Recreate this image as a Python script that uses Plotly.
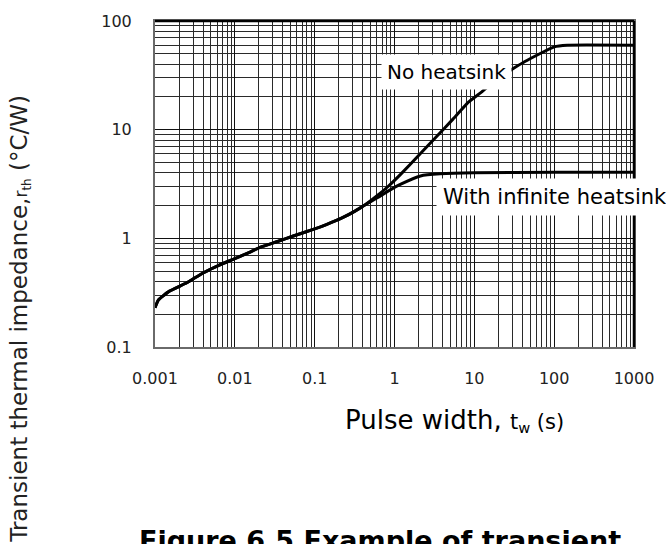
import plotly.graph_objects as go

# Shared part of both curves (pulse width s, impedance °C/W)
common_x = [0.001, 0.0011, 0.0015, 0.0025, 0.004, 0.0063, 0.01, 0.015, 0.021, 0.035, 0.054, 0.1, 0.14, 0.22, 0.32, 0.43]
common_y = [0.23, 0.27, 0.325, 0.39, 0.48, 0.565, 0.65, 0.74, 0.83, 0.94, 1.05, 1.22, 1.34, 1.54, 1.78, 2.04]

# No heatsink branch
nohs_x = [0.6, 0.83, 1.2, 2.1, 3.3, 5.4, 8.5, 12.6, 20, 43, 100, 146, 1000]
nohs_y = [2.45, 3.0, 3.9, 6.0, 8.5, 12.5, 18.0, 22.5, 30, 42.4, 57.8, 59.8, 59.8]

# With infinite heatsink branch
infhs_x = [0.6, 0.83, 1.2, 2.12, 3.74, 10, 100, 1000]
infhs_y = [2.35, 2.72, 3.15, 3.75, 3.92, 4.02, 4.05, 4.05]

x_ticks = [0.001, 0.01, 0.1, 1, 10, 100, 1000]
x_ticktext = ["0.001", "0.01", "0.1", "1", "10", "100", "1000"]
y_ticks = [0.1, 1, 10, 100]
y_ticktext = ["0.1", "1", "10", "100"]

FONT = "DejaVu Sans"

fig = go.Figure()
fig.add_trace(go.Scatter(x=common_x + nohs_x, y=common_y + nohs_y, mode="lines",
                         line=dict(color="black", width=3, shape="spline", smoothing=0.4),
                         showlegend=False))
fig.add_trace(go.Scatter(x=common_x + infhs_x, y=common_y + infhs_y, mode="lines",
                         line=dict(color="black", width=3, shape="spline", smoothing=0.4),
                         showlegend=False))

axis_common = dict(
    type="log",
    showgrid=True, gridcolor="#111111", gridwidth=1.3,
    showline=True, linecolor="#6a6a6a", linewidth=2, mirror=True,
    ticks="", zeroline=False,
    tickfont=dict(family=FONT, size=16, color="#222"),
    minor=dict(showgrid=True, gridcolor="#2a2a2a", gridwidth=1, dtick="D1", ticks=""),
)

fig.update_xaxes(axis_common, range=[-3, 3], tickmode="array", tickvals=x_ticks,
                 ticktext=x_ticktext, ticklabelstandoff=16)
fig.update_yaxes(axis_common, range=[-1, 2], tickmode="array", tickvals=y_ticks,
                 ticktext=y_ticktext, ticklabelstandoff=18)

# black top and right frame
fig.add_shape(type="line", xref="paper", yref="paper", x0=0, x1=1, y0=1, y1=1,
              line=dict(color="black", width=2.5), layer="above")
fig.add_shape(type="line", xref="paper", yref="paper", x0=1, x1=1, y0=0, y1=1,
              line=dict(color="black", width=2.5), layer="above")

# curve labels (annotation coordinates on log axes are log10 values)
fig.add_annotation(x=0.6477, y=1.5276, xref="x", yref="y", text="No heatsink",
                   showarrow=False, bgcolor="white", borderpad=5,
                   font=dict(family=FONT, size=20, color="black"))
fig.add_annotation(x=0.525, y=0.376, xref="x", yref="y", text="With infinite heatsink",
                   xanchor="left", showarrow=False, bgcolor="white", borderpad=6,
                   font=dict(family=FONT, size=21, color="black"))

# x-axis title
fig.add_annotation(xref="paper", yref="paper", x=(461 - 155) / 490, y=-(422 - 347) / 333.5,
                   text="Pulse width, <span style='font-size:21px'>t<sub>w</sub> (s)</span>",
                   showarrow=False, xanchor="center", yanchor="middle",
                   font=dict(family=FONT, size=26, color="black"))
# y-axis title
fig.add_annotation(xref="paper", yref="paper", x=-(155 - 17) / 490, y=(347 - 318) / 333.5,
                   text="Transient thermal impedance,<span style='font-size:17px'>r<sub>th</sub></span> (°C/W)",
                   showarrow=False, textangle=-90, xanchor="center", yanchor="middle",
                   font=dict(family=FONT, size=23, color="#222"))
# figure caption (cut off at bottom)
fig.add_annotation(xref="paper", yref="paper", x=(385 - 155) / 490, y=-(527 - 347) / 333.5,
                   text="<b>Figure 6.5 Example of transient</b>",
                   showarrow=False, xanchor="center", yanchor="top",
                   font=dict(family=FONT, size=27, color="black"))

fig.update_layout(
    width=666, height=544,
    margin=dict(l=155, r=21, t=14, b=197),
    plot_bgcolor="white", paper_bgcolor="white",
    font=dict(family=FONT),
)

fig.write_html("out.html")
